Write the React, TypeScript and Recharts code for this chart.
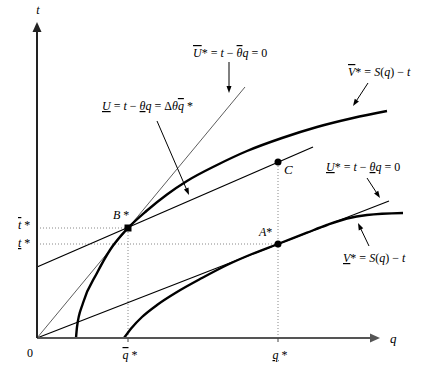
import React from 'react';
import { ComposedChart, Line, XAxis, YAxis, ReferenceLine, ReferenceDot } from 'recharts';

// Curves, in (q, t) units
const upperCurve = [
  { q: 3.9, t: 0 }, { q: 4.0, t: 1.1 }, { q: 4.6, t: 3.5 }, { q: 6.0, t: 6.5 },
  { q: 7.3, t: 8.8 }, { q: 9.1, t: 11.0 }, { q: 11.0, t: 12.75 }, { q: 13.0, t: 14.35 },
  { q: 15.0, t: 15.7 }, { q: 18.0, t: 17.3 }, { q: 21.0, t: 18.7 }, { q: 24.5, t: 20.0 },
  { q: 28.0, t: 21.1 }, { q: 31.6, t: 22.0 }, { q: 35.0, t: 22.7 },
];
const lowerCurve = [
  { q: 8.7, t: 0 }, { q: 9.5, t: 1.05 }, { q: 10.5, t: 2.1 }, { q: 12.0, t: 3.3 },
  { q: 14.0, t: 4.6 }, { q: 16.5, t: 6.0 }, { q: 19.0, t: 7.3 }, { q: 21.5, t: 8.4 },
  { q: 24.1, t: 9.4 }, { q: 27.0, t: 10.53 }, { q: 29.0, t: 11.3 }, { q: 31.0, t: 11.95 },
  { q: 33.0, t: 12.3 }, { q: 36.6, t: 12.5 },
];
const steepLine = [{ q: 0, t: 0 }, { q: 20.8, t: 25.1 }];
const midLine = [{ q: 0, t: 7.1 }, { q: 27.6, t: 19.1 }];
const lowLine = [{ q: 0, t: 0 }, { q: 35.2, t: 13.7 }];

const qBar = 9.1;
const qStar = 24.1;
const tBar = 11.0;
const tStar = 9.4;
const cT = 17.6;
const xArrowEnd = 34.3;
const yArrowEnd = 31.6;

type Part = [string, 'i' | 'o' | 'u' | 'r'];

const FONT = "'Liberation Serif', 'Times New Roman', serif";

const label = (parts: Part[], anchor: 'start' | 'middle' = 'start', size = 12) => (p: any) => (
  <text x={p.cx} y={p.cy} textAnchor={anchor} style={{ fontFamily: FONT, fontSize: size }} fill="#000">
    {parts.map(([s, k], i) => (
      <tspan
        key={i}
        style={{
          fontFamily: FONT,
          fontStyle: k === 'r' ? 'normal' : 'italic',
          textDecoration: k === 'o' ? 'overline' : k === 'u' ? 'underline' : 'none',
          whiteSpace: 'pre',
        }}
      >
        {s}
      </tspan>
    ))}
  </text>
);

const arrow = (head: number, width: number, sw: number, color: string) => (p: any) => {
  const { x1, y1, x2, y2 } = p;
  const dx = x2 - x1;
  const dy = y2 - y1;
  const L = Math.hypot(dx, dy) || 1;
  const ux = dx / L;
  const uy = dy / L;
  const bx = x2 - ux * head;
  const by = y2 - uy * head;
  const px = (-uy * width) / 2;
  const py = (ux * width) / 2;
  return (
    <g>
      <line x1={x1} y1={y1} x2={bx + ux} y2={by + uy} stroke={color} strokeWidth={sw} />
      <polygon points={`${x2},${y2} ${bx + px},${by + py} ${bx - px},${by - py}`} fill={color} />
    </g>
  );
};

const dotShape = (p: any) => <circle cx={p.cx} cy={p.cy} r={3.5} fill="#000" />;
const squareShape = (p: any) => <rect x={p.cx - 3.5} y={p.cy - 3.5} width={7} height={7} fill="#000" />;

const lineCommon = { dot: false, activeDot: false, isAnimationActive: false, legendType: 'none' as const };

export default function App() {
  const dotted = { stroke: '#888', strokeWidth: 1, strokeDasharray: '1 2' };
  return (
    <div style={{ position: 'absolute', left: 0, top: 0, background: '#fff' }}>
      <ComposedChart width={437} height={369} margin={{ top: 0, right: 0, bottom: 0, left: 0 }}>
        <XAxis type="number" dataKey="q" domain={[-3.7, 40]} hide allowDataOverflow />
        <YAxis type="number" dataKey="t" domain={[-3.1, 33.8]} hide allowDataOverflow />

        <ReferenceLine segment={[{ x: 0, y: tBar }, { x: qBar, y: tBar }]} {...dotted} />
        <ReferenceLine segment={[{ x: 0, y: tStar }, { x: qStar, y: tStar }]} {...dotted} />
        <ReferenceLine segment={[{ x: qBar, y: 0 }, { x: qBar, y: tBar }]} {...dotted} />
        <ReferenceLine segment={[{ x: qStar, y: 0 }, { x: qStar, y: cT }]} {...dotted} />

        <Line data={steepLine} dataKey="t" type="linear" stroke="#333" strokeWidth={0.8} {...lineCommon} />
        <Line data={midLine} dataKey="t" type="linear" stroke="#000" strokeWidth={1.3} {...lineCommon} />
        <Line data={lowLine} dataKey="t" type="linear" stroke="#000" strokeWidth={1.2} {...lineCommon} />
        <Line data={upperCurve} dataKey="t" type="monotone" stroke="#000" strokeWidth={2.4} {...lineCommon} />
        <Line data={lowerCurve} dataKey="t" type="monotone" stroke="#000" strokeWidth={2.4} {...lineCommon} />

        {/* axes */}
        <ReferenceLine segment={[{ x: 0, y: 0 }, { x: xArrowEnd, y: 0 }]} shape={arrow(10, 9, 2.2, '#555')} />
        <ReferenceLine segment={[{ x: 0, y: 0 }, { x: 0, y: yArrowEnd }]} shape={arrow(10, 9, 2, '#222')} />
        <ReferenceLine segment={[{ x: qBar, y: 0 }, { x: qBar, y: -0.4 }]} stroke="#444" strokeWidth={1} />
        <ReferenceLine segment={[{ x: qStar, y: 0 }, { x: qStar, y: -0.4 }]} stroke="#444" strokeWidth={1} />

        {/* annotation arrows */}
        <ReferenceLine segment={[{ x: 19.2, y: 27.6 }, { x: 19.2, y: 24.5 }]} shape={arrow(7, 5, 1, '#000')} />
        <ReferenceLine segment={[{ x: 12.0, y: 21.7 }, { x: 15.2, y: 14.3 }]} shape={arrow(7, 5, 1, '#000')} />
        <ReferenceLine segment={[{ x: 33.1, y: 25.5 }, { x: 31.6, y: 23.2 }]} shape={arrow(7, 5, 1, '#000')} />
        <ReferenceLine segment={[{ x: 33.0, y: 16.0 }, { x: 34.3, y: 14.0 }]} shape={arrow(7, 5, 1, '#000')} />
        <ReferenceLine segment={[{ x: 33.2, y: 9.2 }, { x: 32.1, y: 11.5 }]} shape={arrow(7, 5, 1, '#000')} />

        {/* points */}
        <ReferenceDot x={qBar} y={tBar} r={3} shape={squareShape} />
        <ReferenceDot x={qStar} y={tStar} r={3} shape={dotShape} />
        <ReferenceDot x={qStar} y={cT} r={3} shape={dotShape} />

        {/* labels */}
        <ReferenceDot x={0.1} y={32.4} r={1} shape={label([['t', 'i']], 'middle')} />
        <ReferenceDot x={15.6} y={28.1} r={1} shape={label([['U', 'o'], ['* = ', 'r'], ['t', 'i'], [' − ', 'r'], ['θ', 'o'], ['q', 'i'], [' = 0', 'r']])} />
        <ReferenceDot x={6.5} y={22.8} r={1} shape={label([['U', 'u'], [' = ', 'r'], ['t', 'i'], [' − ', 'r'], ['θ', 'u'], ['q', 'i'], [' = Δ', 'r'], ['θ', 'i'], ['q', 'o'], [' *', 'r']])} />
        <ReferenceDot x={31.1} y={26.2} r={1} shape={label([['V', 'o'], ['* = ', 'r'], ['S', 'i'], ['(', 'r'], ['q', 'i'], [')', 'r'], [' − ', 'r'], ['t', 'i']])} />
        <ReferenceDot x={24.7} y={16.4} r={1} shape={label([['C', 'i']], 'start', 13)} />
        <ReferenceDot x={28.9} y={16.7} r={1} shape={label([['U', 'u'], ['* = ', 'r'], ['t', 'i'], [' − ', 'r'], ['θ', 'u'], ['q', 'i'], [' = 0', 'r']])} />
        <ReferenceDot x={30.6} y={7.6} r={1} shape={label([['V', 'u'], ['* = ', 'r'], ['S', 'i'], ['(', 'r'], ['q', 'i'], [')', 'r'], [' − ', 'r'], ['t', 'i']])} />
        <ReferenceDot x={22.2} y={10.2} r={1} shape={label([['A', 'i'], ['*', 'r']])} />
        <ReferenceDot x={7.6} y={11.9} r={1} shape={label([['B', 'i'], [' *', 'r']])} />
        <ReferenceDot x={-1.9} y={10.9} r={1} shape={label([['t', 'o'], [' *', 'r']])} />
        <ReferenceDot x={-1.9} y={9.1} r={1} shape={label([['t', 'u'], [' *', 'r']])} />
        <ReferenceDot x={-0.7} y={-1.9} r={1} shape={label([['0', 'r']], 'middle')} />
        <ReferenceDot x={qBar + 0.2} y={-2.1} r={1} shape={label([['q', 'o'], [' *', 'r']], 'middle')} />
        <ReferenceDot x={qStar + 0.2} y={-2.1} r={1} shape={label([['q', 'u'], [' *', 'r']], 'middle')} />
        <ReferenceDot x={35.3} y={-0.5} r={1} shape={label([['q', 'i']], 'start', 13)} />
      </ComposedChart>
    </div>
  );
}
